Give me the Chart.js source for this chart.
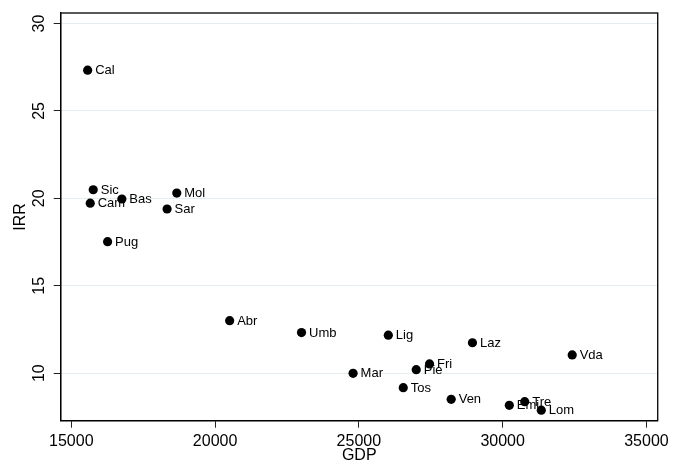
<!DOCTYPE html>
<html>
<head>
<meta charset="utf-8">
<script src="https://cdn.jsdelivr.net/npm/chart.js@4/dist/chart.umd.min.js"></script>
<style>
  html, body { margin: 0; padding: 0; background: #fff; }
  #wrap { width: 675px; height: 465px; }
</style>
</head>
<body>
<div id="wrap"><canvas id="c" width="675" height="465"></canvas></div>
<script>
const regions = ["Cal","Sic","Cam","Bas","Mol","Sar","Pug","Abr","Umb","Mar","Lig","Laz","Vda","Fri","Pie","Tos","Ven","Emi","Tre","Lom"];
const gdp = [15569,15763,15659,16759,18668,18331,16263,20507,23005,24799,26024,28949,32418,27457,26995,26544,28210,30232,30767,31343];
const irr = [27.33,20.49,19.72,19.96,20.30,19.39,17.52,13.00,12.32,9.99,12.17,11.74,11.04,10.53,10.20,9.17,8.50,8.16,8.37,7.88];
const xTicks = [15000,20000,25000,30000,35000];
const yTicks = [10,15,20,25,30];

const FONT = "'Liberation Sans', Arial, sans-serif";

const points = gdp.map((g, i) => ({ x: g, y: irr[i] }));

const pointLabels = {
  id: 'pointLabels',
  afterDatasetsDraw(chart) {
    const ctx = chart.ctx;
    const meta = chart.getDatasetMeta(0);
    ctx.save();
    ctx.font = "13px " + FONT;
    ctx.fillStyle = '#000';
    ctx.textAlign = 'left';
    ctx.textBaseline = 'middle';
    meta.data.forEach((el, i) => {
      ctx.fillText(regions[i], el.x + 7.5, el.y + 0.5);
    });
    ctx.restore();
  }
};

const frame = {
  id: 'frame',
  afterDraw(chart) {
    const a = chart.chartArea;
    const ctx = chart.ctx;
    ctx.save();
    ctx.strokeStyle = '#000';
    ctx.lineWidth = 1.3;
    ctx.strokeRect(a.left, a.top, a.right - a.left, a.bottom - a.top);
    ctx.restore();
  }
};

new Chart(document.getElementById('c'), {
  type: 'scatter',
  data: {
    datasets: [{
      data: points,
      backgroundColor: '#000',
      borderColor: '#000',
      borderWidth: 0,
      pointRadius: 4.6,
      pointHoverRadius: 4.6
    }]
  },
  options: {
    responsive: false,
    animation: false,
    events: [],
    layout: { padding: { top: 9.3, right: 16, left: 0, bottom: 0 } },
    plugins: { legend: { display: false }, tooltip: { enabled: false } },
    scales: {
      x: {
        type: 'linear',
        min: 14632,
        max: 35392,
        afterFit(s) { s.height = 44.3; },
        afterBuildTicks(s) { s.ticks = xTicks.map(v => ({ value: v })); },
        grid: { drawOnChartArea: false, drawTicks: true, tickLength: 7, tickColor: '#222', tickWidth: 1 },
        border: { display: true, color: '#000', width: 1.3 },
        ticks: {
          color: '#000',
          font: { family: FONT, size: 16, lineHeight: 1 },
          padding: 6,
          maxRotation: 0,
          autoSkip: false,
          callback: v => String(v)
        },
        title: {
          display: true,
          text: 'GDP',
          color: '#000',
          font: { family: FONT, size: 16, lineHeight: 1 },
          padding: { top: 0, bottom: 1 }
        }
      },
      y: {
        type: 'linear',
        min: 7.28,
        max: 30.6,
        afterFit(s) { s.width = 60.7; },
        afterBuildTicks(s) { s.ticks = yTicks.map(v => ({ value: v })); },
        grid: { drawOnChartArea: true, color: '#e4edf0', lineWidth: 1, drawTicks: true, tickLength: 7, tickColor: '#222', tickWidth: 1 },
        border: { display: true, color: '#000', width: 1.3 },
        ticks: {
          color: '#000',
          font: { family: FONT, size: 16, lineHeight: 1 },
          padding: 5,
          minRotation: 90,
          maxRotation: 90,
          crossAlign: 'center',
          autoSkip: false,
          callback: v => String(v)
        },
        title: {
          display: true,
          text: 'IRR',
          color: '#000',
          font: { family: FONT, size: 16, lineHeight: 1 },
          padding: { top: 13, bottom: 0 }
        }
      }
    }
  },
  plugins: [pointLabels, frame]
});
</script>
</body>
</html>
